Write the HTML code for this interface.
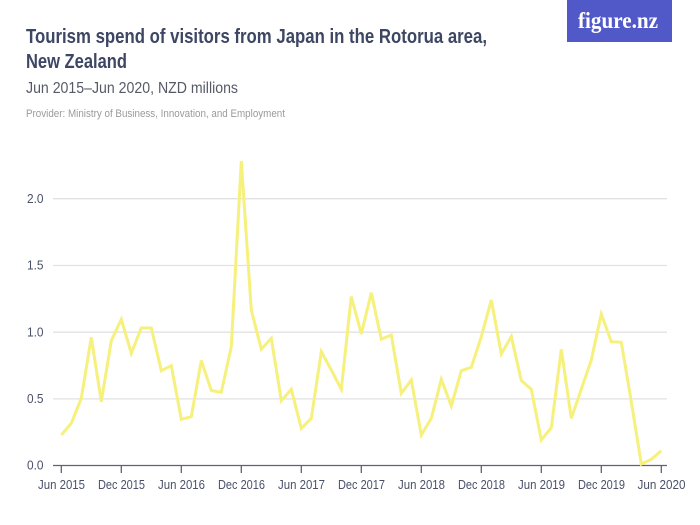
<!DOCTYPE html>
<html>
<head>
<meta charset="utf-8">
<style>
  html, body { margin: 0; padding: 0; background: #ffffff; }
  body { width: 700px; height: 525px; overflow: hidden; }
  svg { display: block; }
</style>
</head>
<body>
<svg width="700" height="525" viewBox="0 0 700 525" xmlns="http://www.w3.org/2000/svg">
  <rect x="0" y="0" width="700" height="525" fill="#ffffff"/>

  <!-- Logo -->
  <rect x="567" y="0" width="105" height="42" fill="#5159c8"/>
  <text x="578" y="28" font-family="Liberation Serif, serif" font-size="23" font-weight="bold" fill="#ffffff" textLength="80" lengthAdjust="spacingAndGlyphs">figure.nz</text>

  <!-- Titles -->
  <text x="26" y="43" font-family="Liberation Sans, sans-serif" font-size="20" font-weight="bold" fill="#3d4663" textLength="461" lengthAdjust="spacingAndGlyphs">Tourism spend of visitors from Japan in the Rotorua area,</text>
  <text x="26" y="68" font-family="Liberation Sans, sans-serif" font-size="20" font-weight="bold" fill="#3d4663" textLength="101" lengthAdjust="spacingAndGlyphs">New Zealand</text>
  <text x="26" y="93" font-family="Liberation Sans, sans-serif" font-size="16" fill="#555a66" textLength="212" lengthAdjust="spacingAndGlyphs">Jun 2015–Jun 2020, NZD millions</text>
  <text x="26" y="117" font-family="Liberation Sans, sans-serif" font-size="11" fill="#9a9a9a" textLength="259" lengthAdjust="spacingAndGlyphs">Provider: Ministry of Business, Innovation, and Employment</text>

  <!-- Gridlines -->
  <g stroke="#e2e2e2" stroke-width="1.3">
    <line x1="53" y1="198.7" x2="667" y2="198.7"/>
    <line x1="53" y1="265.5" x2="667" y2="265.5"/>
    <line x1="53" y1="332.2" x2="667" y2="332.2"/>
    <line x1="53" y1="398.9" x2="667" y2="398.9"/>
  </g>

  <!-- Y labels -->
  <g font-family="Liberation Sans, sans-serif" font-size="12.5" fill="#4a5068" text-anchor="end">
    <text x="43.5" y="202.8" textLength="16.5" lengthAdjust="spacingAndGlyphs">2.0</text>
    <text x="43.5" y="269.6" textLength="16.5" lengthAdjust="spacingAndGlyphs">1.5</text>
    <text x="43.5" y="336.3" textLength="16.5" lengthAdjust="spacingAndGlyphs">1.0</text>
    <text x="43.5" y="403" textLength="16.5" lengthAdjust="spacingAndGlyphs">0.5</text>
    <text x="43.5" y="469.7" textLength="16.5" lengthAdjust="spacingAndGlyphs">0.0</text>
  </g>

  <!-- Axis -->
  <line x1="53" y1="465.5" x2="667" y2="465.5" stroke="#5f6270" stroke-width="1.3"/>
  <g stroke="#5f6270" stroke-width="1.3">
    <line x1="61.3" y1="465.5" x2="61.3" y2="473"/>
    <line x1="121.3" y1="465.5" x2="121.3" y2="473"/>
    <line x1="181.3" y1="465.5" x2="181.3" y2="473"/>
    <line x1="241.3" y1="465.5" x2="241.3" y2="473"/>
    <line x1="301.3" y1="465.5" x2="301.3" y2="473"/>
    <line x1="361.3" y1="465.5" x2="361.3" y2="473"/>
    <line x1="421.3" y1="465.5" x2="421.3" y2="473"/>
    <line x1="481.3" y1="465.5" x2="481.3" y2="473"/>
    <line x1="541.3" y1="465.5" x2="541.3" y2="473"/>
    <line x1="601.3" y1="465.5" x2="601.3" y2="473"/>
    <line x1="661.3" y1="465.5" x2="661.3" y2="473"/>
  </g>

  <!-- X labels -->
  <g font-family="Liberation Sans, sans-serif" font-size="12.5" fill="#4a5068" text-anchor="middle">
    <text x="61.5" y="489" textLength="47" lengthAdjust="spacingAndGlyphs">Jun 2015</text>
    <text x="121.5" y="489" textLength="47" lengthAdjust="spacingAndGlyphs">Dec 2015</text>
    <text x="181.5" y="489" textLength="47" lengthAdjust="spacingAndGlyphs">Jun 2016</text>
    <text x="241.5" y="489" textLength="47" lengthAdjust="spacingAndGlyphs">Dec 2016</text>
    <text x="301.5" y="489" textLength="47" lengthAdjust="spacingAndGlyphs">Jun 2017</text>
    <text x="361.5" y="489" textLength="47" lengthAdjust="spacingAndGlyphs">Dec 2017</text>
    <text x="421.5" y="489" textLength="47" lengthAdjust="spacingAndGlyphs">Jun 2018</text>
    <text x="481.5" y="489" textLength="47" lengthAdjust="spacingAndGlyphs">Dec 2018</text>
    <text x="541.5" y="489" textLength="47" lengthAdjust="spacingAndGlyphs">Jun 2019</text>
    <text x="601.5" y="489" textLength="47" lengthAdjust="spacingAndGlyphs">Dec 2019</text>
    <text x="661.5" y="489" textLength="48" lengthAdjust="spacingAndGlyphs">Jun 2020</text>
  </g>

  <!-- Data line -->
  <polyline fill="none" stroke="#f6f07c" stroke-width="3" stroke-linejoin="miter" stroke-miterlimit="4"
    points="61.3,435 71.3,423.3 81.3,398.3 91.3,337.3 101.3,401.7 111.3,340.7 121.3,319.3 131.3,353.3 141.3,328 151.3,328 161.3,370.7 171.3,365.7 181.3,419.3 191.3,416.7 201.3,360.5 211.3,390.5 221.3,392.3 231.3,346.7 241.3,161 251.3,310 261.3,349.3 271.3,338.3 281.3,400.7 291.3,389.3 301.3,428.3 311.3,418.3 321.3,351.7 331.3,370 341.3,389.3 351.3,296.5 361.3,334 371.3,292.7 381.3,339.3 391.3,335 401.3,393.3 411.3,380 421.3,435 431.3,418.3 441.3,379.3 451.3,406 461.3,370.7 471.3,367.3 481.3,336.7 491.3,300 501.3,354 511.3,336.5 521.3,380.5 531.3,389.3 541.3,440 551.3,427.7 561.3,349.3 571.3,418.3 581.3,389.3 591.3,360 601.3,314 611.3,341.7 621.3,342.3 631.3,401.7 641.3,464 651.3,459.3 661.3,450.7"/>
</svg>
</body>
</html>
